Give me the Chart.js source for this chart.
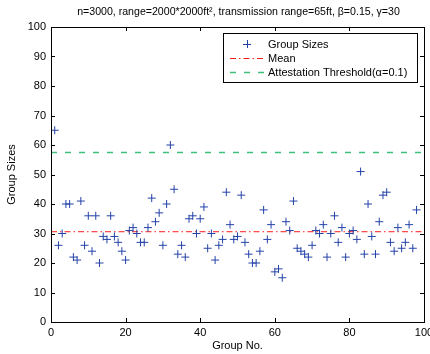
<!DOCTYPE html>
<html><head><meta charset="utf-8">
<script src="https://cdn.jsdelivr.net/npm/chart.js@4/dist/chart.umd.min.js"></script>
<style>html,body{margin:0;padding:0;background:#fff}#wrap{width:430px;height:354px}</style>
</head><body><div id="wrap"><canvas id="c" width="430" height="354"></canvas></div>
<script>
const groupNumbers = [1,2,3,4,5,6,7,8,9,10,11,12,13,14,15,16,17,18,19,20,21,22,23,24,25,
  26,27,28,29,30,31,32,33,34,35,36,37,38,39,40,41,42,43,44,45,46,47,48,49,50,
  51,52,53,54,55,56,57,58,59,60,61,62,63,64,65,66,67,68,69,70,71,72,73,74,
  75,76,77,78,79,80,81,82,83,84,85,86,87,88,89,90,91,92,93,94,95,96,97,98];
const groupSizes = [65,26,30,40,40,22,21,41,26,36,24,36,20,29,28,36,29,27,24,21,31,32,30,27,27,
  32,42,34,37,26,40,60,45,23,26,22,35,36,30,35,39,25,30,21,26,28,44,33,28,29,
  43,27,23,20,20,24,38,28,33,17,18,15,34,31,41,25,24,23,22,26,31,30,33,22,
  30,36,27,32,22,30,31,28,51,23,40,29,23,34,43,44,27,24,32,25,27,33,25,38];
const meanValue = 30.6;
const thresholdValue = 57.5;
const lineSpan = [0, 100];
const xTicks = [0,20,40,60,80,100];
const yTicks = [0,10,20,30,40,50,60,70,80,90,100];
const titleText = 'n=3000, range=2000*2000ft\u00B2, transmission range=65ft, \u03B2=0.15, \u03B3=30';
const legendLabels = ['Group Sizes', 'Mean', 'Attestation Threshold(\u03B1=0.1)'];
const xLabel = 'Group No.';
const yLabel = 'Group Sizes';

const FONT = '"Liberation Sans", Arial, Helvetica, sans-serif';
const blue = '#2443a8', red = '#ff1a1a', green = '#3fbf7a';

const framePlugin = {
  id: 'frame',
  afterDraw(chart) {
    const ctx = chart.ctx, a = chart.chartArea;
    const xs = chart.scales.x, ys = chart.scales.y;
    ctx.save();
    ctx.strokeStyle = '#000'; ctx.lineWidth = 1;
    ctx.strokeRect(Math.round(a.left) + 0.5, Math.round(a.top) + 0.5,
      Math.round(a.right - a.left), Math.round(a.bottom - a.top));
    ctx.beginPath();
    xTicks.forEach(v => {
      const px = Math.round(xs.getPixelForValue(v)) + 0.5;
      ctx.moveTo(px, a.bottom); ctx.lineTo(px, a.bottom - 4);
      ctx.moveTo(px, a.top); ctx.lineTo(px, a.top + 4);
    });
    yTicks.forEach(v => {
      const py = Math.round(ys.getPixelForValue(v)) + 0.5;
      ctx.moveTo(a.left, py); ctx.lineTo(a.left + 4, py);
      ctx.moveTo(a.right, py); ctx.lineTo(a.right - 4, py);
    });
    ctx.stroke();
    // title
    ctx.fillStyle = '#000';
    ctx.font = '10.6px ' + FONT;
    ctx.textAlign = 'center'; ctx.textBaseline = 'middle';
    ctx.fillText(titleText, (a.left + a.right) / 2 + 1, 12);
    // legend
    ctx.font = '11px ' + FONT;
    const bx = 223.5, by = 33.5, bw = 194, bh = 49;
    ctx.fillStyle = '#fff';
    ctx.fillRect(bx, by, bw, bh);
    ctx.strokeStyle = '#000'; ctx.lineWidth = 1;
    ctx.strokeRect(bx, by, bw, bh);
    const rows = [44, 58, 72];
    const ds = chart.data.datasets;
    ctx.strokeStyle = ds[0].borderColor; ctx.lineWidth = 1;
    ctx.beginPath();
    ctx.moveTo(243, rows[0] + 0.5); ctx.lineTo(251, rows[0] + 0.5);
    ctx.moveTo(247.5, rows[0] - 4); ctx.lineTo(247.5, rows[0] + 4);
    ctx.stroke();
    for (let i = 1; i < 3; i++) {
      ctx.strokeStyle = ds[i].borderColor; ctx.lineWidth = ds[i].borderWidth;
      ctx.setLineDash(ds[i].borderDash);
      ctx.beginPath(); ctx.moveTo(230, rows[i] + 0.5); ctx.lineTo(264, rows[i] + 0.5); ctx.stroke();
    }
    ctx.setLineDash([]);
    ctx.fillStyle = '#000'; ctx.textAlign = 'left';
    legendLabels.forEach((t, i) => ctx.fillText(t, 268, rows[i] + 1));
    ctx.restore();
  }
};

new Chart(document.getElementById('c'), {
  type: 'scatter',
  data: {
    datasets: [
      { label: legendLabels[0], data: groupNumbers.map((g, i) => ({x: g, y: groupSizes[i]})),
        pointStyle: 'cross', pointRadius: 4, pointHoverRadius: 4, borderColor: blue, backgroundColor: blue, borderWidth: 1 },
      { label: legendLabels[1], type: 'line', data: lineSpan.map(x => ({x, y: meanValue})),
        borderColor: red, borderWidth: 1, borderDash: [6,3,1.5,3], pointRadius: 0, fill: false },
      { label: legendLabels[2], type: 'line', data: lineSpan.map(x => ({x, y: thresholdValue})),
        borderColor: green, borderWidth: 1.5, borderDash: [6,8], pointRadius: 0, fill: false }
    ]
  },
  options: {
    responsive: false, animation: false, devicePixelRatio: 1,
    layout: { padding: { top: 27, right: 6, left: 0, bottom: 0 } },
    plugins: { legend: { display: false }, title: { display: false }, tooltip: { enabled: false } },
    scales: {
      x: { type: 'linear', min: 0, max: 100,
        afterFit(s) { s.height = 32; s.paddingLeft = 0; s.paddingRight = 0; },
        afterBuildTicks(s) { s.ticks = xTicks.map(v => ({value: v})); },
        grid: { display: false, drawTicks: false }, border: { display: false },
        ticks: { color: '#000', font: { size: 11, family: FONT }, padding: 4, maxRotation: 0 },
        title: { display: true, text: xLabel, color: '#000', font: { size: 11, family: FONT }, padding: { top: 1, bottom: 1 } } },
      y: { min: 0, max: 100,
        afterFit(s) { s.width = 51; s.paddingTop = 0; s.paddingBottom = 0; },
        afterBuildTicks(s) { s.ticks = yTicks.map(v => ({value: v})); },
        grid: { display: false, drawTicks: false }, border: { display: false },
        ticks: { color: '#000', font: { size: 11, family: FONT }, padding: 5 },
        title: { display: true, text: yLabel, color: '#000', font: { size: 11, family: FONT }, padding: { top: 5, bottom: 1 } } }
    }
  },
  plugins: [framePlugin]
});
</script></body></html>
